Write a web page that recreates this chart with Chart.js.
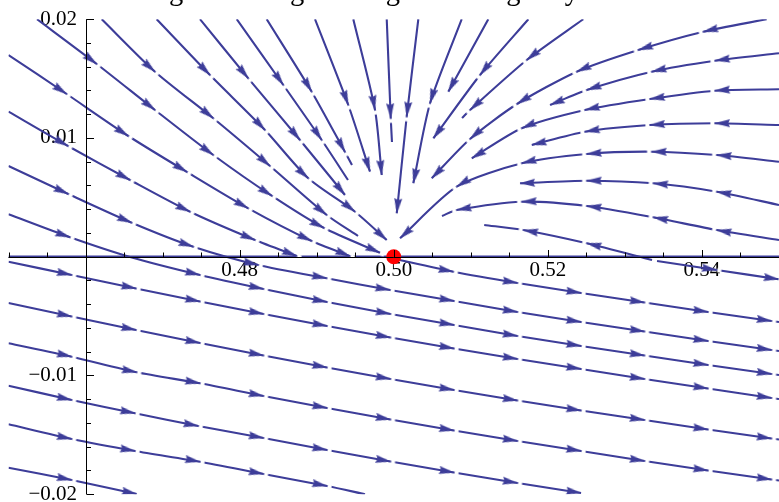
<!DOCTYPE html>
<html><head><meta charset="utf-8">
<script src="https://cdn.jsdelivr.net/npm/chart.js@4/dist/chart.umd.min.js"></script>
<style>html,body{margin:0;padding:0;background:#fff;}#wrap{width:779px;height:502px;position:relative;}</style>
</head><body><div id="wrap"><canvas id="c"></canvas></div>
<script>
const titleText = 'eigenvalues go through the imaginary axis.';
const xLabelTicks = [0.48, 0.50, 0.52, 0.54];
const yLabelTicks = [0.02, 0.01, -0.01, -0.02];
const xTicks = [0.45,0.455,0.46,0.465,0.47,0.475,0.48,0.485,0.49,0.495,0.50,0.505,0.51,0.515,0.52,0.525,0.53,0.535,0.54,0.545,0.55];
const yTicks = [-0.02,-0.018,-0.016,-0.014,-0.012,-0.01,-0.008,-0.006,-0.004,-0.002,0,0.002,0.004,0.006,0.008,0.01,0.012,0.014,0.016,0.018,0.02];
const equilibrium = [[0.5, 0]];
const axisStream = [[0.45, 0], [0.55, 0]];

// streamlines: [x, y, arrowTip]
const streamA = [[0.4537,0.02,0],[0.46145,0.016227,1],[0.46901,0.012354,1],[0.47658,0.008564,1],[0.4842,0.005112,1],[0.49095,0.002417,1],[0.49822,0.000337,1]];
const streamB = [[0.45,0.016985,0],[0.45755,0.013701,1],[0.46555,0.010164,1],[0.47317,0.007133,1],[0.48112,0.004076,1],[0.48935,0.001322,1],[0.49432,0.00005,1]];
const streamC = [[0.45,0.012211,0],[0.45772,0.009322,1],[0.46577,0.006459,1],[0.47356,0.003789,1],[0.48199,0.001406,1],[0.48741,0.000059,1]];
const streamD = [[0.4621,0.02,0],[0.46901,0.015579,1],[0.47658,0.011655,1],[0.48394,0.007638,1],[0.4913,0.003512,1],[0.49536,0.001743,0]];
const streamE = [[0.46923,0.02,0],[0.47615,0.015301,1],[0.48329,0.01067,1],[0.48891,0.006602,1],[0.49497,0.003789,1],[0.49909,0.001406,1]];
const streamF = [[0.47485,0.02,0],[0.48112,0.015023,1],[0.48783,0.009827,1],[0.49367,0.005196,1]];
const streamG = [[0.47962,0.02,0],[0.48567,0.014459,1],[0.49065,0.009827,1],[0.49406,0.006459,0]];
const streamH = [[0.48351,0.02,0],[0.48935,0.013895,1],[0.49367,0.008817,1],[0.49458,0.007722,0]];
const streamI = [[0.48978,0.02,0],[0.4941,0.012775,1],[0.49692,0.007158,1]];
const streamJ = [[0.49475,0.02,0],[0.49757,0.012354,1],[0.49844,0.00688,1]];
const streamK = [[0.49909,0.02,0],[0.49961,0.011655,1],[0.49977,0.009659,0]];
const streamL = [[0.50319,0.02,0],[0.50168,0.011789,1],[0.50039,0.003655,1]];
const streamM = [[0.50882,0.02,0],[0.50471,0.012918,1],[0.50254,0.006181,1]];
const streamN = [[0.51227,0.02,0],[0.50708,0.013895,1]];
const streamO = [[0.51747,0.02,0],[0.5112,0.015301,1],[0.50514,0.009971,1]];
const streamS = [[0.5246,0.02,0],[0.51726,0.016564,1],[0.5099,0.012354,1],[0.50886,0.01168,0]];
const streamR1 = [[0.5484,0.02,0],[0.54018,0.018947,1],[0.53174,0.017407,1],[0.52375,0.015579,1],[0.516,0.012859,1],[0.5099,0.009912,1],[0.50493,0.006602,1]];
const streamR2 = [[0.55,0.017129,0],[0.5417,0.016505,1],[0.53348,0.015579,1],[0.52505,0.014038,1],[0.52028,0.012775,1]];
const streamR3 = [[0.55,0.014097,0],[0.5417,0.013979,1],[0.53326,0.01328,1],[0.52482,0.012354,1],[0.51661,0.010813,1],[0.51012,0.008286,1]];
const streamR4 = [[0.55,0.011091,0],[0.5417,0.011234,1],[0.53326,0.011091,1],[0.52482,0.010526,1],[0.51791,0.009406,1]];
const streamUA = [[0.55,0.008,0],[0.54192,0.008564,1],[0.53348,0.008842,1],[0.52505,0.008648,1],[0.51661,0.007865,1],[0.50817,0.005895,1],[0.50081,0.001549,1]];
const streamUB = [[0.55,0.004354,0],[0.54192,0.005474,1],[0.53369,0.006181,1],[0.52505,0.0064,1],[0.51639,0.006181,1]];
const streamUC = [[0.55,0.001406,0],[0.54192,0.002248,1],[0.53369,0.003318,1],[0.52505,0.00427,1],[0.51661,0.004632,1],[0.50817,0.003933,1],[0.50626,0.003427,0]];
const streamUD = [[0.53352,-0.000278,0],[0.52505,0.001128,1],[0.51682,0.002248,1],[0.51174,0.002669,0]];
const streamP = [[0.45,0.007638,0],[0.45776,0.00528,1],[0.46599,0.002863,1],[0.47399,0.000842,1],[0.48242,-0.000699,1],[0.4913,-0.001819,1],[0.49952,-0.002804,1],[0.50782,-0.003731,1],[0.51606,-0.004657,1],[0.52431,-0.005499,1],[0.53255,-0.006299,1],[0.54079,-0.007099,1],[0.54903,-0.007857,1],[0.55,-0.007941,0]];
const streamQ = [[0.45,0.003571,0],[0.45798,0.001634,1],[0.46577,-0.000025,0],[0.47485,-0.001541,1],[0.4831,-0.00272,1],[0.49134,-0.003815,1],[0.49958,-0.004825,1],[0.50782,-0.005752,1],[0.51606,-0.006678,1],[0.52431,-0.00752,1],[0.53255,-0.00832,1],[0.54079,-0.00912,1],[0.54903,-0.009878,1],[0.55,-0.009962,0]];
const streamL0 = [[0.45,-0.000421,0],[0.4582,-0.001541,1],[0.46655,-0.002678,1],[0.47485,-0.003773,1],[0.4831,-0.004825,1],[0.49134,-0.005836,1],[0.49958,-0.006804,1],[0.50782,-0.007731,1],[0.51606,-0.008615,1],[0.52431,-0.009457,1],[0.53255,-0.010299,1],[0.54079,-0.011099,1],[0.54903,-0.011899,1],[0.55,-0.011983,0]];
const streamL1 = [[0.45,-0.003899,0],[0.4582,-0.005036,1],[0.46655,-0.006173,1],[0.47485,-0.007267,1],[0.4831,-0.00832,1],[0.49134,-0.009331,1],[0.49958,-0.010299,1],[0.50782,-0.011225,1],[0.51606,-0.01211,1],[0.52431,-0.012952,1],[0.53255,-0.013752,1],[0.54079,-0.014552,1],[0.54903,-0.01531,1],[0.55,-0.015394,0]];
const streamL2 = [[0.45,-0.007293,0],[0.4582,-0.008421,1],[0.46664,-0.009735,1],[0.47485,-0.010661,1],[0.4831,-0.011731,1],[0.49134,-0.012741,1],[0.49958,-0.01371,1],[0.50782,-0.014636,1],[0.51606,-0.01552,1],[0.52431,-0.016362,1],[0.53255,-0.017204,1],[0.54079,-0.018004,1],[0.54903,-0.018762,1],[0.55,-0.018846,0]];
const streamL3 = [[0.45,-0.010863,0],[0.4582,-0.012067,1],[0.46642,-0.013187,1],[0.47463,-0.014257,1],[0.4831,-0.015268,1],[0.49134,-0.016278,1],[0.49958,-0.017246,1],[0.50782,-0.018173,1],[0.51606,-0.019057,1],[0.52431,-0.019899,1]];
const streamL4 = [[0.45,-0.014114,0],[0.4582,-0.015352,1],[0.46642,-0.016362,1],[0.47485,-0.017263,1],[0.4831,-0.018299,1],[0.49134,-0.01931,1],[0.49627,-0.02,0]];
const streamL5 = [[0.45,-0.017769,0],[0.4582,-0.018804,1],[0.46664,-0.019983,1]];
const streamN0 = [[0.4999,-0.000152,0],[0.50773,-0.001263,1],[0.51606,-0.002215,1],[0.52431,-0.003057,1],[0.53255,-0.003857,1],[0.54079,-0.004657,1],[0.54903,-0.005415,1],[0.55,-0.005499,0]];
const streamAR = [[0.53417,-0.000362,0],[0.54192,-0.00112,1],[0.54995,-0.001903,1]];

const streams = [streamA, streamB, streamC, streamD, streamE, streamF, streamG, streamH, streamI, streamJ,
  streamK, streamL, streamM, streamN, streamO, streamS, streamR1, streamR2, streamR3, streamR4,
  streamUA, streamUB, streamUC, streamUD, streamP, streamQ, streamL0, streamL1, streamL2, streamL3,
  streamL4, streamL5, streamN0, streamAR];

const streamColor = '#3d3d99';
function makeArrow() {
  const L = 15, W = 8, G = 4;
  const c = document.createElement('canvas');
  c.width = 2 * L + 2; c.height = W + 4;
  const g = c.getContext('2d');
  const cx = c.width / 2, cy = c.height / 2;
  g.fillStyle = '#fff';
  g.fillRect(cx + 0.6, cy - 2.3, G, 4.6);
  g.fillStyle = streamColor;
  g.beginPath();
  g.moveTo(cx + 0.5, cy); g.lineTo(cx - L, cy - W / 2); g.lineTo(cx - L * 0.88, cy); g.lineTo(cx - L, cy + W / 2);
  g.closePath(); g.fill();
  return c;
}
const arrowImg = makeArrow();

function arrowAngle(ctx) {
  const d = ctx.dataset.data, i = ctx.dataIndex;
  if (!d[i] || !d[i][2] || i === 0) return 0;
  const sx = ctx.chart.scales.x, sy = ctx.chart.scales.y;
  const a = d[i - 1], b = d[i + 1] || d[i];
  const dx = sx.getPixelForValue(b[0]) - sx.getPixelForValue(a[0]);
  const dy = sy.getPixelForValue(b[1]) - sy.getPixelForValue(a[1]);
  return Math.atan2(dy, dx) * 180 / Math.PI;
}

const datasets = [{
  data: axisStream, showLine: true, borderColor: streamColor, borderWidth: 2.4, pointRadius: 0, order: 5
}];
streams.forEach(s => datasets.push({
  data: s, showLine: true, borderColor: streamColor, borderWidth: 2.1, tension: 0.25,
  pointRadius: ctx => (ctx.raw && ctx.raw[2]) ? 6 : 0,
  pointHoverRadius: 0, pointStyle: arrowImg, pointRotation: arrowAngle, order: 2
}));
datasets.push({
  data: equilibrium, pointRadius: 7.5, pointBackgroundColor: '#ff0000', pointBorderWidth: 0, showLine: false, order: -1
});

const axesPlugin = {
  id: 'mmaAxes',
  afterDatasetsDraw(chart) {
    const {ctx, chartArea: a, scales: {x, y}} = chart;
    const y0 = Math.round(y.getPixelForValue(0)) + 0.5;
    const x0 = Math.round(x.getPixelForValue(0.46)) + 0.5;
    ctx.save();
    ctx.strokeStyle = '#000'; ctx.lineWidth = 1;
    ctx.beginPath();
    ctx.moveTo(a.left, y0); ctx.lineTo(a.right, y0);
    ctx.moveTo(x0, y.getPixelForValue(0.02)); ctx.lineTo(x0, y.getPixelForValue(-0.02));
    xTicks.forEach(v => {
      const px = Math.round(x.getPixelForValue(v)) + 0.5;
      const len = xLabelTicks.some(m => Math.abs(m - v) < 1e-9) ? 7.5 : 5;
      ctx.moveTo(px, y0); ctx.lineTo(px, y0 - len);
    });
    yTicks.forEach(v => {
      const py = Math.round(y.getPixelForValue(v)) + 0.5;
      const len = yLabelTicks.some(m => Math.abs(m - v) < 1e-9) ? 7.5 : 4.5;
      ctx.moveTo(x0, py); ctx.lineTo(x0 + len, py);
    });
    ctx.stroke();
    ctx.restore();
  }
};

const tickFont = {family: 'Liberation Serif', size: 21, weight: 'normal'};
new Chart(document.getElementById('c'), {
  type: 'scatter',
  data: {datasets},
  plugins: [axesPlugin],
  options: {
    responsive: true, maintainAspectRatio: false, animation: false,
    events: [],
    layout: {autoPadding: false, padding: {top: 0, left: 8.5, right: 0, bottom: 7.8}},
    plugins: {
      legend: {display: false}, tooltip: {enabled: false},
      title: {display: true, text: titleText, color: '#000',
        font: {family: 'Liberation Serif', size: 28.5, weight: 'normal', lineHeight: 1.2},
        padding: {top: -25, bottom: 10}}
    },
    scales: {
      x: {type: 'linear', min: 0.45, max: 0.55, position: {y: 0},
        grid: {display: false, drawTicks: false, tickLength: 0}, border: {display: false},
        afterBuildTicks: s => { s.ticks = xLabelTicks.map(v => ({value: v})); },
        afterFit: s => { s.height = 0; s.paddingLeft = 0; s.paddingRight = 0; },
        ticks: {font: tickFont, color: '#000', padding: 1, maxRotation: 0, autoSkip: false,
          callback: v => Number(v).toFixed(2)}},
      y: {type: 'linear', min: -0.02, max: 0.02, position: {x: 0.4589},
        grid: {display: false, drawTicks: false, tickLength: 0}, border: {display: false},
        afterBuildTicks: s => { s.ticks = yLabelTicks.map(v => ({value: v})); },
        afterFit: s => { s.width = 0; s.paddingTop = 0; s.paddingBottom = 0; },
        ticks: {font: tickFont, color: '#000', padding: 0, autoSkip: false,
          callback: v => (v < 0 ? '\u2212' : '') + Math.abs(v).toFixed(2)}}
    }
  }
});
</script></body></html>
